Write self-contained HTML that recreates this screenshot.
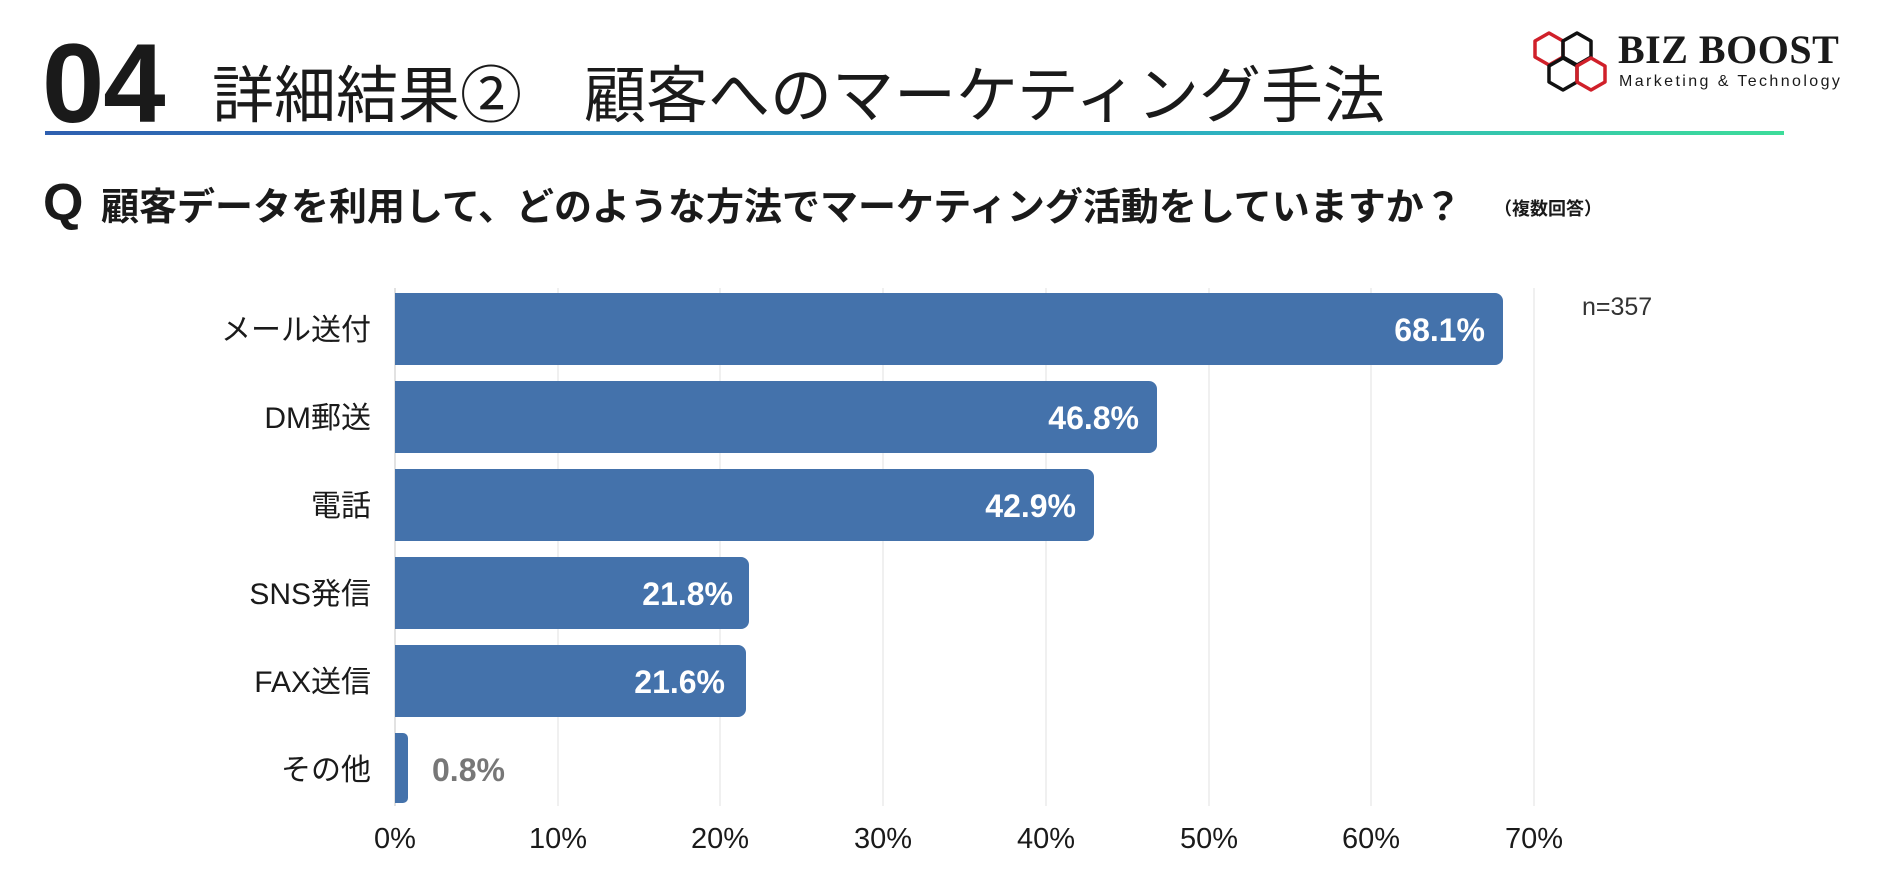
<!DOCTYPE html>
<html><head><meta charset="utf-8"><style>
body{margin:0;width:1882px;height:886px;background:#fff;position:relative;overflow:hidden;font-family:"Liberation Sans","Noto Sans CJK JP",sans-serif;color:#1a1a1a}
.a{position:absolute;white-space:nowrap}
</style></head><body>
<div class="a" style="left:42px;top:24px;font-size:112px;font-weight:bold;line-height:120px;letter-spacing:-1px">04</div>
<div class="a" style="left:212px;top:50px;font-size:62px;font-weight:400;line-height:80px;font-family:'Noto Sans CJK JP',sans-serif">詳細結果②　顧客へのマーケティング手法</div>
<div class="a" style="left:45px;top:131px;width:1739px;height:4px;background:linear-gradient(90deg,#2e5fb0,#2aa8c8 60%,#3ddc9a)"></div>
<div class="a" style="left:43px;top:176px;font-size:52px;font-weight:bold;line-height:54px;font-family:'Liberation Sans',sans-serif">Q</div>
<div class="a" style="left:101px;top:180px;font-size:38px;font-weight:bold;line-height:48px;font-family:'Noto Sans CJK JP',sans-serif">顧客データを利用して、どのような方法でマーケティング活動をしていますか？</div>
<div class="a" style="left:1494px;top:196px;font-size:18px;font-weight:bold;line-height:24px;font-family:'Noto Sans CJK JP',sans-serif">（複数回答）</div>
<svg class="a" style="left:1532px;top:30px" width="80" height="66" viewBox="0 0 80 66">
<g fill="none" stroke-width="3.5" stroke-linejoin="round">
<polygon points="17,3 31,11 31,27 17,35 3,27 3,11" stroke="#d0202a"/>
<polygon points="45,3 59,11 59,27 45,35 31,27 31,11" stroke="#111"/>
<polygon points="31,28 45,36 45,52 31,60 17,52 17,36" stroke="#111"/>
<polygon points="59,28 73,36 73,52 59,60 45,52 45,36" stroke="#d0202a"/>
</g></svg>
<div class="a" style="left:1618px;top:28px;font-size:40px;font-weight:bold;line-height:44px;letter-spacing:0.5px;font-family:'Liberation Serif',serif">BIZ BOOST</div>
<div class="a" style="left:1619px;top:72px;font-size:16px;letter-spacing:2.4px;line-height:20px">Marketing &amp; Technology</div>
<svg class="a" style="left:0;top:0" width="1882" height="886">
<g stroke="#ececec" stroke-width="1.5">
<line x1="558" y1="288" x2="558" y2="806"/><line x1="720" y1="288" x2="720" y2="806"/>
<line x1="883" y1="288" x2="883" y2="806"/><line x1="1046" y1="288" x2="1046" y2="806"/>
<line x1="1209" y1="288" x2="1209" y2="806"/><line x1="1371" y1="288" x2="1371" y2="806"/>
<line x1="1534" y1="288" x2="1534" y2="806"/>
</g>
<line x1="395" y1="288" x2="395" y2="806" stroke="#d8d8d8" stroke-width="1.5"/>
<g fill="#4472ab">
<path d="M395,293H1495a8,8 0 0 1 8,8V357a8,8 0 0 1 -8,8H395Z"/>
<path d="M395,381H1149a8,8 0 0 1 8,8V445a8,8 0 0 1 -8,8H395Z"/>
<path d="M395,469H1086a8,8 0 0 1 8,8V533a8,8 0 0 1 -8,8H395Z"/>
<path d="M395,557H741a8,8 0 0 1 8,8V621a8,8 0 0 1 -8,8H395Z"/>
<path d="M395,645H738a8,8 0 0 1 8,8V709a8,8 0 0 1 -8,8H395Z"/>
<path d="M395,733H403a5,5 0 0 1 5,5V798a5,5 0 0 1 -5,5H395Z"/>
</g>
<g font-family="Liberation Sans,Noto Sans CJK JP,sans-serif" font-weight="bold" font-size="32" fill="#fff" text-anchor="end">
<text x="1485" y="341">68.1%</text><text x="1139" y="429">46.8%</text>
<text x="1076" y="517">42.9%</text><text x="733" y="605">21.8%</text>
<text x="725" y="693">21.6%</text>
</g>
<text x="432" y="781" font-family="Liberation Sans,sans-serif" font-weight="bold" font-size="32" fill="#777">0.8%</text>
<g font-family="Liberation Sans,Noto Sans CJK JP,sans-serif" font-size="30" fill="#1a1a1a" text-anchor="end">
<text x="371" y="340">メール送付</text><text x="371" y="428">DM郵送</text>
<text x="371" y="516">電話</text><text x="371" y="604">SNS発信</text>
<text x="371" y="692">FAX送信</text><text x="371" y="780">その他</text>
</g>
<g font-family="Liberation Sans,sans-serif" font-size="29" fill="#1a1a1a" text-anchor="middle">
<text x="395" y="848">0%</text><text x="558" y="848">10%</text><text x="720" y="848">20%</text>
<text x="883" y="848">30%</text><text x="1046" y="848">40%</text><text x="1209" y="848">50%</text>
<text x="1371" y="848">60%</text><text x="1534" y="848">70%</text>
</g>
<text x="1582" y="315" font-family="Liberation Sans,sans-serif" font-size="25" fill="#333">n=357</text>
</svg>
</body></html>
